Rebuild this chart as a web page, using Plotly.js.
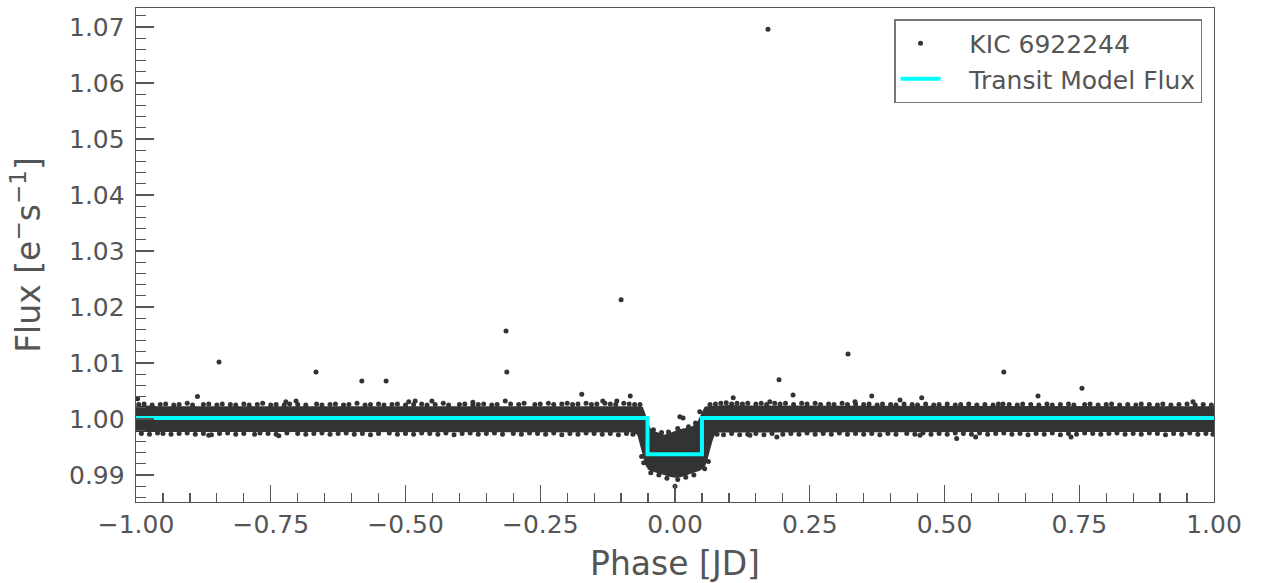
<!DOCTYPE html>
<html>
<head>
<meta charset="utf-8">
<script src="https://cdn.plot.ly/plotly-3.0.1.min.js"></script>
<style>html,body{margin:0;padding:0;background:#fff;}#chart{width:1261px;height:583px;}</style>
</head>
<body>
<div id="chart"></div>
<script>
// ---- Data ----
const seriesName = "KIC 6922244";
const modelName = "Transit Model Flux";

// Dense band of phase-folded points: upper / lower envelope
const bandPhase = [
  -1.00,-0.98,-0.96,-0.94,-0.92,-0.90,-0.88,-0.86,-0.84,-0.82,-0.80,-0.78,-0.76,-0.74,-0.72,-0.70,
  -0.68,-0.66,-0.64,-0.62,-0.60,-0.58,-0.56,-0.54,-0.52,-0.50,-0.48,-0.46,-0.44,-0.42,-0.40,-0.38,
  -0.36,-0.34,-0.32,-0.30,-0.28,-0.26,-0.24,-0.22,-0.20,-0.18,-0.16,-0.14,-0.12,-0.10,-0.08,
  -0.07,-0.065,-0.06,-0.055,-0.05,-0.045,-0.04,-0.03,-0.02,-0.01,0.00,0.01,0.02,0.03,0.04,0.045,
  0.05,0.055,0.06,0.065,0.07,0.075,
  0.08,0.10,0.12,0.14,0.16,0.18,0.20,0.22,0.24,0.26,0.28,0.30,0.32,0.34,0.36,0.38,0.40,0.42,0.44,
  0.46,0.48,0.50,0.52,0.54,0.56,0.58,0.60,0.62,0.64,0.66,0.68,0.70,0.72,0.74,0.76,0.78,0.80,0.82,
  0.84,0.86,0.88,0.90,0.92,0.94,0.96,0.98,1.00
];
const bandUpper = [
  1.0023,1.0024,1.0023,1.0023,1.0024,1.0023,1.0023,1.0024,1.0023,1.0023,1.0023,1.0024,1.0023,1.0023,1.0023,1.0024,
  1.0023,1.0023,1.0023,1.0024,1.0023,1.0023,1.0023,1.0024,1.0023,1.0023,1.0023,1.0024,1.0023,1.0023,1.0024,1.0023,
  1.0023,1.0023,1.0024,1.0024,1.0023,1.0024,1.0024,1.0024,1.0024,1.0024,1.0024,1.0024,1.0024,1.0024,1.0024,
  1.0023,1.0023,1.0022,1.0010,0.9992,0.9983,0.9979,0.9975,0.9972,0.9975,0.9979,0.9982,0.9984,0.9986,0.9992,1.0002,
  1.0015,1.0022,1.0023,1.0023,1.0024,1.0024,
  1.0024,1.0025,1.0024,1.0024,1.0024,1.0024,1.0024,1.0024,1.0024,1.0024,1.0023,1.0024,1.0023,1.0024,1.0024,1.0023,1.0023,1.0024,1.0023,
  1.0023,1.0023,1.0024,1.0023,1.0023,1.0023,1.0023,1.0024,1.0023,1.0023,1.0024,1.0023,1.0023,1.0023,1.0023,1.0024,1.0023,1.0023,1.0023,
  1.0023,1.0023,1.0023,1.0024,1.0023,1.0023,1.0023,1.0023,1.0023
];
const bandLower = [
  0.9977,0.9976,0.9977,0.9976,0.9977,0.9977,0.9976,0.9977,0.9977,0.9976,0.9977,0.9976,0.9977,0.9977,0.9976,0.9977,
  0.9976,0.9977,0.9977,0.9976,0.9977,0.9976,0.9976,0.9977,0.9977,0.9976,0.9977,0.9976,0.9977,0.9976,0.9977,0.9977,
  0.9976,0.9977,0.9976,0.9977,0.9976,0.9977,0.9977,0.9976,0.9977,0.9976,0.9977,0.9976,0.9977,0.9976,0.9976,
  0.9972,0.9955,0.9936,0.9918,0.9910,0.9907,0.9905,0.9903,0.9900,0.9897,0.9895,0.9896,0.9899,0.9902,0.9906,0.9907,
  0.9910,0.9914,0.9926,0.9945,0.9962,0.9974,
  0.9976,0.9976,0.9977,0.9976,0.9977,0.9976,0.9977,0.9977,0.9976,0.9977,0.9976,0.9977,0.9977,0.9976,0.9977,0.9976,0.9977,0.9976,0.9977,
  0.9977,0.9976,0.9977,0.9976,0.9977,0.9977,0.9976,0.9977,0.9976,0.9977,0.9977,0.9976,0.9977,0.9976,0.9977,0.9976,0.9977,0.9977,0.9976,
  0.9977,0.9976,0.9977,0.9976,0.9977,0.9977,0.9976,0.9977,0.9977
];

// Individual points along the ragged band edges (upper edge, lower edge, dip edges)
const edgeUpperPhase = [
  -0.995,-0.985,-0.97,-0.955,-0.945,-0.93,-0.92,-0.905,-0.895,-0.875,-0.865,-0.85,-0.84,-0.825,-0.815,-0.80,
  -0.79,-0.775,-0.765,-0.75,-0.74,-0.725,-0.715,-0.70,-0.685,-0.665,-0.655,-0.64,-0.63,-0.615,-0.605,-0.59,
  -0.575,-0.565,-0.55,-0.54,-0.525,-0.515,-0.50,-0.485,-0.47,-0.46,-0.445,-0.43,-0.42,-0.40,-0.39,-0.375,
  -0.365,-0.355,-0.34,-0.33,-0.305,-0.29,-0.28,-0.26,-0.25,-0.235,-0.225,-0.21,-0.20,-0.19,-0.18,-0.165,
  -0.155,-0.145,-0.13,-0.12,-0.11,-0.095,-0.085,-0.075,-0.065,
  0.065,0.075,0.085,0.095,0.105,0.115,0.125,0.135,0.15,0.16,0.17,0.185,0.195,0.205,0.22,0.235,0.245,0.26,
  0.27,0.285,0.295,0.31,0.32,0.335,0.35,0.36,0.375,0.385,0.40,0.41,0.425,0.44,0.45,0.465,0.48,0.49,0.505,
  0.52,0.53,0.545,0.56,0.575,0.59,0.60,0.62,0.635,0.645,0.66,0.675,0.69,0.70,0.715,0.73,0.74,0.76,0.77,
  0.785,0.80,0.81,0.825,0.84,0.855,0.865,0.88,0.895,0.905,0.92,0.935,0.95,0.965,0.98,0.995
];
const edgeUpperFlux = [
  1.0026,1.0027,1.0025,1.0026,1.0027,1.0025,1.0026,1.0028,1.0025,1.0026,1.0027,1.0025,1.0027,1.0026,1.0025,1.0027,
  1.0025,1.0026,1.0028,1.0025,1.0026,1.0025,1.0027,1.0026,1.0025,1.0027,1.0025,1.0026,1.0027,1.0025,1.0026,1.0028,
  1.0025,1.0026,1.0027,1.0025,1.0026,1.0027,1.0025,1.0026,1.0027,1.0025,1.0026,1.0028,1.0025,1.0026,1.0027,1.0025,
  1.0026,1.0027,1.0025,1.0026,1.0027,1.0026,1.0028,1.0026,1.0027,1.0028,1.0026,1.0027,1.0028,1.0026,1.0027,1.0028,
  1.0026,1.0027,1.0028,1.0027,1.0026,1.0028,1.0027,1.0026,1.0026,
  1.0026,1.0027,1.0028,1.0029,1.0027,1.0028,1.0027,1.0028,1.0027,1.0028,1.0026,1.0028,1.0027,1.0028,1.0026,1.0028,1.0027,1.0028,
  1.0026,1.0027,1.0026,1.0028,1.0026,1.0027,1.0026,1.0027,1.0025,1.0027,1.0026,1.0025,1.0027,1.0026,1.0025,1.0027,1.0025,1.0026,1.0027,
  1.0025,1.0026,1.0027,1.0025,1.0026,1.0025,1.0027,1.0026,1.0025,1.0027,1.0026,1.0025,1.0027,1.0025,1.0026,1.0027,1.0025,1.0026,1.0027,
  1.0025,1.0026,1.0027,1.0025,1.0026,1.0025,1.0027,1.0026,1.0025,1.0027,1.0025,1.0026,1.0027,1.0025,1.0026,1.0025
];
const edgeLowerPhase = [
  -0.99,-0.975,-0.96,-0.95,-0.935,-0.92,-0.905,-0.89,-0.875,-0.86,-0.845,-0.83,-0.815,-0.80,-0.78,-0.77,
  -0.755,-0.74,-0.72,-0.70,-0.685,-0.67,-0.655,-0.64,-0.625,-0.61,-0.595,-0.58,-0.565,-0.55,-0.53,-0.515,
  -0.50,-0.485,-0.47,-0.455,-0.44,-0.425,-0.41,-0.395,-0.38,-0.365,-0.35,-0.335,-0.32,-0.30,-0.285,-0.27,
  -0.255,-0.24,-0.225,-0.21,-0.195,-0.18,-0.165,-0.15,-0.135,-0.12,-0.105,-0.09,-0.078,
  0.078,0.09,0.105,0.12,0.135,0.15,0.165,0.18,0.20,0.215,0.23,0.245,0.26,0.275,0.29,0.305,0.32,0.335,0.35,
  0.365,0.38,0.395,0.41,0.43,0.445,0.46,0.475,0.49,0.505,0.52,0.535,0.55,0.565,0.58,0.595,0.61,0.625,0.64,
  0.655,0.67,0.685,0.70,0.715,0.73,0.745,0.76,0.775,0.79,0.805,0.82,0.835,0.85,0.865,0.88,0.895,0.91,0.925,
  0.94,0.955,0.97,0.985,0.998
];
const edgeLowerFlux = [
  0.9974,0.9973,0.9975,0.9974,0.9973,0.9974,0.9975,0.9973,0.9974,0.9972,0.9974,0.9975,0.9973,0.9974,0.9973,0.9975,
  0.9974,0.9973,0.9975,0.9974,0.9973,0.9974,0.9975,0.9973,0.9974,0.9975,0.9973,0.9974,0.9972,0.9974,0.9975,0.9973,
  0.9974,0.9973,0.9975,0.9974,0.9973,0.9975,0.9972,0.9974,0.9975,0.9973,0.9974,0.9975,0.9973,0.9974,0.9973,0.9975,
  0.9974,0.9973,0.9975,0.9972,0.9974,0.9973,0.9975,0.9974,0.9973,0.9974,0.9972,0.9974,0.9973,
  0.9973,0.9972,0.9974,0.9972,0.9973,0.9974,0.9972,0.9974,0.9973,0.9974,0.9973,0.9975,0.9973,0.9974,0.9973,0.9975,0.9973,0.9974,0.9973,
  0.9974,0.9972,0.9974,0.9973,0.9974,0.9973,0.9975,0.9973,0.9974,0.9973,0.9975,0.9974,0.9973,0.9975,0.9973,0.9974,0.9975,0.9973,0.9974,
  0.9972,0.9974,0.9973,0.9975,0.9972,0.9974,0.9973,0.9975,0.9974,0.9973,0.9974,0.9975,0.9973,0.9974,0.9973,0.9975,0.9974,0.9972,0.9974,
  0.9973,0.9975,0.9973,0.9974,0.9973
];
const edgeDipPhase = [
  -0.062,-0.058,-0.045,-0.03,-0.015,0.005,0.02,0.035,0.055,0.062,
  -0.04,-0.025,-0.012,0.005,0.025,0.038
];
const edgeDipFlux = [
  0.9933,0.9922,0.9904,0.9900,0.9894,0.9892,0.9896,0.9900,0.9911,0.9924,
  0.9981,0.9976,0.9977,0.9983,0.9986,0.9993
];

// Isolated outliers
const outlierPhase = [
  0.1725,-0.100,-0.3135,-0.312,-0.846,-0.666,-0.581,-0.536,0.321,0.193,0.610,0.755,0.219,
  -0.886,-0.703,-0.722,-0.997,-0.494,-0.865,-0.735,
  -0.173,-0.083,-0.134,-0.108,-0.315,-0.375,-0.451,-0.482,
  0.365,0.108,0.4175,0.4577,0.176,0.334,0.015,0.046,0.009,0.000,0.139,0.189,0.4545,
  0.6735,0.6085,0.961,0.5226,0.5578,0.7347
];
const outlierFlux = [
  1.0696,1.0213,1.0157,1.0084,1.0102,1.0084,1.0068,1.0068,1.0116,1.0070,1.0084,1.0055,1.0043,
  1.0040,1.0032,1.0031,1.0036,1.0031,0.9971,0.9970,
  1.0044,1.0041,1.0032,1.0032,1.0032,1.0030,1.0032,1.0032,
  1.0041,1.0038,1.0034,1.0038,1.0031,1.0031,1.0002,1.0013,1.0004,0.9880,0.9971,0.9968,0.9971,
  1.0041,1.0027,1.0031,0.9965,0.9968,0.9968
];

// Box-shaped transit model
const modelPhase = [-1.0, -0.051, -0.051, 0.050, 0.050, 1.0];
const modelFlux  = [1.0002, 1.0002, 0.9937, 0.9937, 1.0002, 1.0002];

const xTicks = [-1.0,-0.75,-0.5,-0.25,0.0,0.25,0.5,0.75,1.0];

// ---- Build traces ----
const dotColor = "#333333";
const bandX = bandPhase.concat(bandPhase.slice().reverse());
const bandY = bandUpper.concat(bandLower.slice().reverse());
const ptsX = edgeUpperPhase.concat(edgeLowerPhase, edgeDipPhase, outlierPhase);
const ptsY = edgeUpperFlux.concat(edgeLowerFlux, edgeDipFlux, outlierFlux);

const pad = "\u00A0\u00A0\u00A0";
const traces = [
  {
    x: bandX, y: bandY, type: "scatter", mode: "lines",
    fill: "toself", fillcolor: dotColor, line: {width: 0, color: dotColor},
    showlegend: false, hoverinfo: "skip", legendgroup: "a"
  },
  {
    x: ptsX, y: ptsY, type: "scatter", mode: "markers", name: pad + seriesName, legendgroup: "a",
    marker: {color: dotColor, size: 5}
  },
  {
    x: modelPhase, y: modelFlux, type: "scatter", mode: "lines", name: pad + modelName,
    legendgroup: "b", line: {color: "#00FFFF", width: 4}
  }
];

const axisCol = "#555555";
const tickFont = {family: "DejaVu Sans", size: 25, color: axisCol};
const layout = {
  width: 1261, height: 583,
  margin: {l: 136, r: 47, t: 8, b: 81},
  paper_bgcolor: "#ffffff", plot_bgcolor: "#ffffff",
  font: {family: "DejaVu Sans", color: axisCol},
  showlegend: true,
  legend: {
    x: 0.9889, y: 0.9777, xanchor: "right", yanchor: "top",
    bgcolor: "#ffffff", bordercolor: "#777777", borderwidth: 1.5,
    font: {family: "DejaVu Sans", size: 25, color: axisCol},
    traceorder: "grouped", tracegroupgap: 0, itemwidth: 40
  },
  xaxis: {
    range: [-1, 1], tickvals: xTicks, tickformat: ".2f",
    ticks: "inside", ticklen: 17, tickwidth: 1.3, tickcolor: axisCol,
    showline: true, linecolor: axisCol, linewidth: 1.3, mirror: true,
    showgrid: false, zeroline: false, tickfont: tickFont,
    minor: {ticks: "inside", ticklen: 9, tickwidth: 1.2, tickcolor: axisCol, dtick: 0.05, tick0: 0, showgrid: false},
    title: {text: "Phase [JD]", font: {family: "DejaVu Sans", size: 33, color: axisCol}, standoff: 13}
  },
  yaxis: {
    range: [0.98518, 1.0734], tick0: 0.99, dtick: 0.01, tickformat: ".2f",
    ticks: "inside", ticklen: 18, tickwidth: 1.3, tickcolor: axisCol,
    showline: true, linecolor: axisCol, linewidth: 1.3, mirror: true,
    showgrid: false, zeroline: false, tickfont: tickFont, ticklabelstandoff: 5,
    minor: {ticks: "inside", ticklen: 10, tickwidth: 1.2, tickcolor: axisCol, dtick: 0.002, tick0: 0.99, showgrid: false},
    title: {text: "Flux [e<sup>−</sup>s<sup>−1</sup>]", font: {family: "DejaVu Sans", size: 33, color: axisCol}, standoff: 18}
  }
};

Plotly.newPlot("chart", traces, layout, {displayModeBar: false, staticPlot: true});
</script>
</body>
</html>
